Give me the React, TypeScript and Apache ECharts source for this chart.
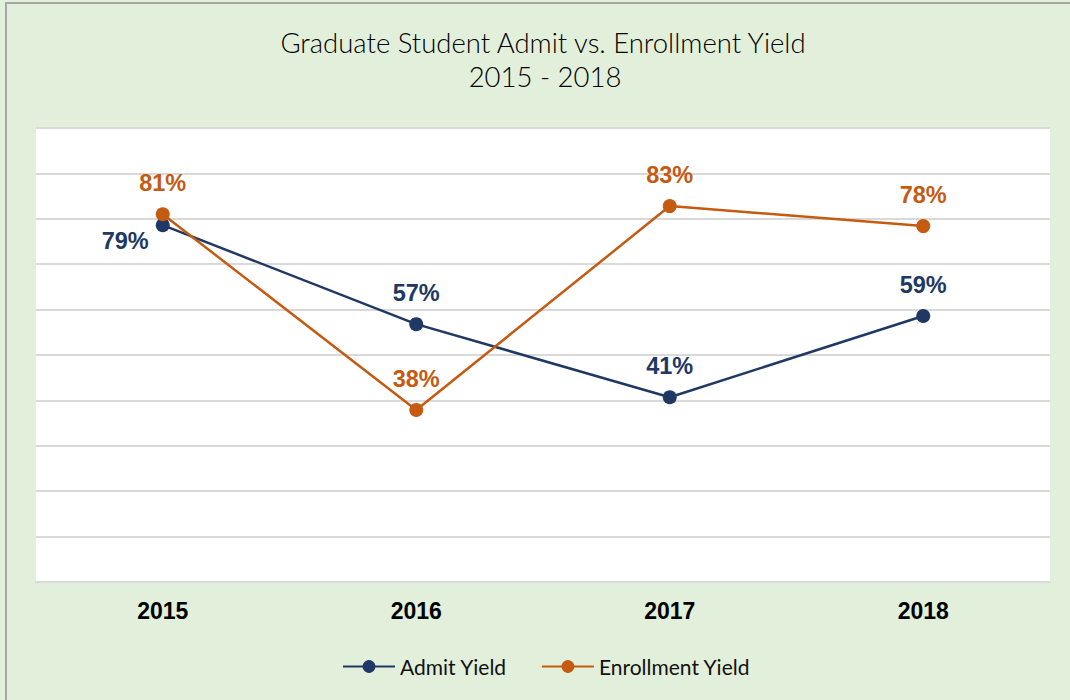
import React, { useEffect, useRef } from "react";
import * as echarts from "echarts";

const categories = ["2015", "2016", "2017", "2018"];
const admitYield = [0.786, 0.568, 0.407, 0.586];
const enrollmentYield = [0.81, 0.379, 0.828, 0.784];
const titleLines = ["Graduate Student Admit vs. Enrollment Yield", "2015 - 2018"];

const BLUE = "#203864";
const ORANGE = "#C55A11";

const pct = (p: any) => Math.round(p.value * 100) + "%";

export default function App() {
  const ref = useRef<HTMLDivElement>(null);
  useEffect(() => {
    const chart = echarts.init(ref.current!, null, { renderer: "svg" });
    const labelBase = {
      show: true,
      formatter: pct,
      fontFamily: "Liberation Sans, Arial, sans-serif",
      fontWeight: "bold" as const,
      fontSize: 23.5,
    };
    const titleStyle = { fontFamily: "Lato", fontWeight: 300, fontSize: 27.5, color: "#000" };
    chart.setOption({
      animation: false,
      backgroundColor: "#E2EFDA",
      title: [
        { text: titleLines[0], left: 538, top: 23, textAlign: "center", textStyle: titleStyle },
        { text: titleLines[1], left: 540, top: 57, textAlign: "center", textStyle: titleStyle },
      ],
      graphic: [
        {
          type: "rect",
          shape: { x: 6, y: 3, width: 1100, height: 750 },
          style: { fill: "none", stroke: "#A6A6A6", lineWidth: 2 },
          silent: true,
        },
      ],
      legend: {
        left: 337,
        top: 651,
        itemWidth: 52,
        itemHeight: 16,
        itemGap: 34,
        textStyle: { fontFamily: "Lato", fontSize: 21, color: "#111" },
        data: ["Admit Yield", "Enrollment Yield"],
      },
      grid: {
        left: 36,
        right: 20,
        top: 128,
        bottom: 118,
        show: true,
        backgroundColor: "#ffffff",
        borderWidth: 0,
      },
      xAxis: {
        type: "category",
        data: categories,
        boundaryGap: true,
        axisLine: { show: true, lineStyle: { color: "#D9D9D9", width: 2 } },
        axisTick: { show: false },
        axisLabel: {
          margin: 17,
          fontFamily: "Liberation Sans, Arial, sans-serif",
          fontWeight: "bold",
          fontSize: 23,
          color: "#000",
        },
      },
      yAxis: {
        type: "value",
        min: 0,
        max: 1,
        interval: 0.1,
        axisLabel: { show: false },
        axisLine: { show: false },
        axisTick: { show: false },
        splitLine: { show: true, lineStyle: { color: "#D9D9D9", width: 2 } },
      },
      series: [
        {
          name: "Admit Yield",
          type: "line",
          data: admitYield.map((v, i) =>
            i === 0
              ? { value: v, label: { position: "left", distance: 7, offset: [0, 16] } }
              : v
          ),
          color: BLUE,
          symbol: "circle",
          symbolSize: 14,
          lineStyle: { width: 2.5, color: BLUE },
          itemStyle: { color: BLUE },
          label: { ...labelBase, color: BLUE, position: "top", distance: 12 },
          z: 3,
        },
        {
          name: "Enrollment Yield",
          type: "line",
          data: enrollmentYield,
          color: ORANGE,
          symbol: "circle",
          symbolSize: 14,
          lineStyle: { width: 2.5, color: ORANGE },
          itemStyle: { color: ORANGE },
          label: { ...labelBase, color: ORANGE, position: "top", distance: 12 },
          z: 4,
        },
      ],
    });
    return () => chart.dispose();
  }, []);
  return (
    <div
      ref={ref}
      style={{ position: "absolute", left: 0, top: 0, width: 1070, height: 700 }}
    />
  );
}
